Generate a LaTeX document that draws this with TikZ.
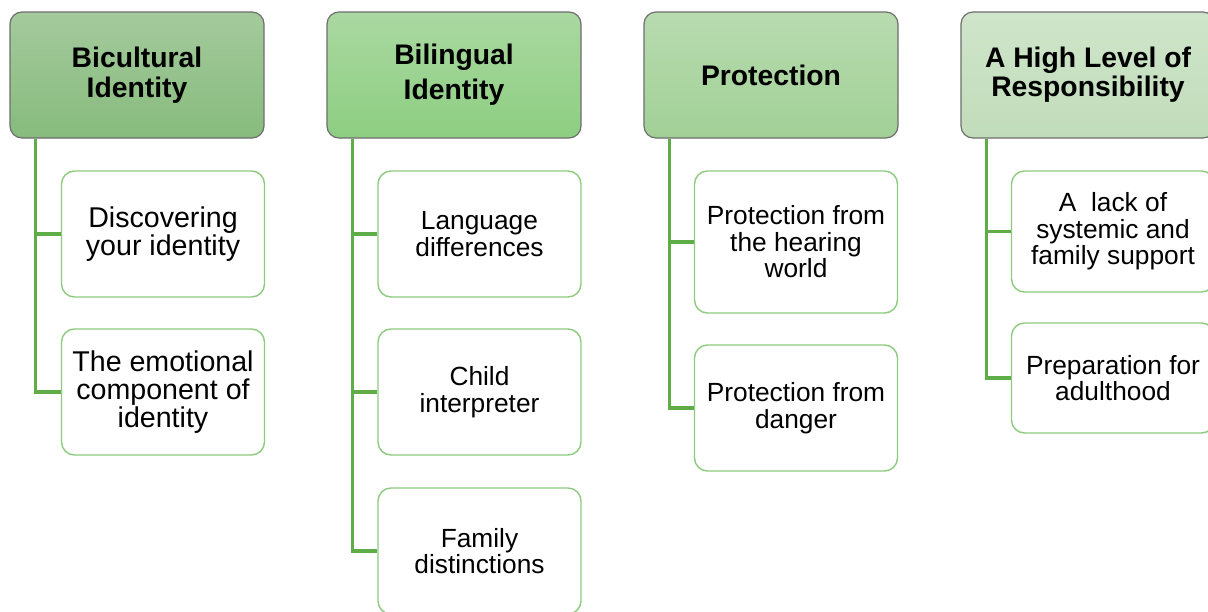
\documentclass[tikz,border=0pt]{standalone}
\usepackage{fontspec}
\setmainfont{Liberation Sans}

% palette
\definecolor{trunkgreen}{HTML}{5FAD47}
\definecolor{childedge}{HTML}{8DCB7F}
\definecolor{headedge}{HTML}{6E6E6E}
\definecolor{hAtop}{HTML}{A4CA9C}
\definecolor{hAbot}{HTML}{87BB7D}
\definecolor{hBtop}{HTML}{AAD8A1}
\definecolor{hBbot}{HTML}{8DCE81}
\definecolor{hCtop}{HTML}{B8DBB0}
\definecolor{hCbot}{HTML}{A1D096}
\definecolor{hDtop}{HTML}{CFE5CA}
\definecolor{hDbot}{HTML}{C1DCBA}

\tikzset{
  headbox/.style={draw=headedge, line width=1.2pt, rounded corners=12pt,
    minimum width=254pt, minimum height=126pt, inner sep=0pt,
    align=center, font=\fontsize{28.3}{30}\selectfont\bfseries},
  childbox/.style={draw=childedge, line width=1.4pt, rounded corners=13pt,
    fill=white, minimum width=203pt, inner sep=0pt,
    align=center, font=\fontsize{26.3}{26.5}\selectfont},
  bigchild/.style={font=\fontsize{28.6}{28.3}\selectfont},
  conn/.style={draw=trunkgreen, line width=3.2pt},
}

\begin{document}
\begin{tikzpicture}[x=1pt, y=-1pt]
\clip (0,0) rectangle (1208,611);
\fill[white] (0,0) rectangle (1208,611);

% column heads
\node[headbox, top color=hAtop, bottom color=hAbot] (h1) at (137,75)
  {Bicultural\\Identity};
\node[headbox, top color=hBtop, bottom color=hBbot,
  font=\fontsize{28.3}{35}\selectfont\bfseries] (h2) at (454,75)
  {Bilingual\\Identity};
\node[headbox, top color=hCtop, bottom color=hCbot] (h3) at (771,75)
  {Protection};
\node[headbox, top color=hDtop, bottom color=hDbot,
  font=\fontsize{28.3}{29}\selectfont\bfseries] (h4) at (1088,75)
  {A High Level of\\Responsibility};

% column 1
\node[childbox, bigchild, minimum height=126pt] (c11) at (163,234)
  {Discovering\\your identity};
\node[childbox, bigchild, minimum height=126pt] (c12) at (163,392)
  {The emotional\\component of\\identity};

% column 2
\node[childbox, minimum height=126pt] (c21) at (479.5,234)
  {Language\\differences};
\node[childbox, minimum height=126pt] (c22) at (479.5,392)
  {Child\\interpreter};
\node[childbox, minimum height=126pt] (c23) at (479.5,551)
  {Family\\distinctions};

% column 3
\node[childbox, minimum height=142pt] (c31) at (796,242)
  {Protection from\\the hearing\\world};
\node[childbox, minimum height=126pt] (c32) at (796,408)
  {Protection from\\danger};

% column 4
\node[childbox, minimum height=121pt] (c41) at (1113,231.5)
  {A\ \ lack of\\systemic and\\family support};
\node[childbox, minimum height=110pt] (c42) at (1113,378)
  {Preparation for\\adulthood};

% connectors: a trunk from each head down to every child
\foreach \h/\c in {h1/c11, h1/c12, h2/c21, h2/c22, h2/c23,
                   h3/c31, h3/c32, h4/c41, h4/c42}
  \draw[conn] ([xshift=26pt]\h.south west) |- (\c.west);

\end{tikzpicture}
\end{document}
